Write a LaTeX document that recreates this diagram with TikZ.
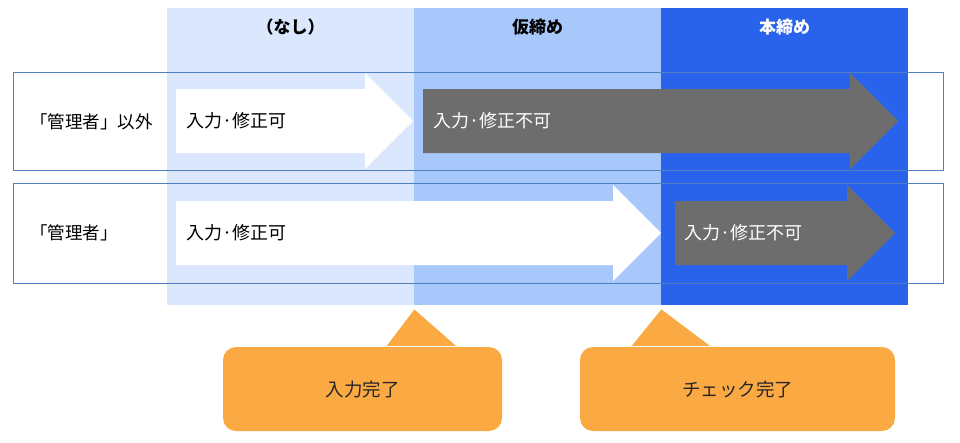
\documentclass[tikz,border=0pt]{standalone}
\usepackage{fontspec}
\setmainfont{Noto Sans CJK JP}
\usepackage{xcolor}
\usetikzlibrary{positioning}

\definecolor{colnone}{HTML}{DAE7FC}
\definecolor{coltemp}{HTML}{A8C7FA}
\definecolor{colfinal}{HTML}{2A63EB}
\definecolor{arrowgray}{HTML}{6D6D6D}
\definecolor{rowline}{HTML}{5080C2}
\definecolor{calloutorange}{HTML}{FBA942}

% block arrow: fill, start x, tip x, centre y
\newcommand{\blockarrow}[4]{%
  \fill[#1] (#2,#4-32) -- (#3-48,#4-32) -- (#3-48,#4-48) -- (#3,#4)
    -- (#3-48,#4+48) -- (#3-48,#4+32) -- (#2,#4+32) -- cycle;}

\begin{document}
\begin{tikzpicture}[
  x=1pt, y=-1pt,
  colbox/.style={anchor=north west, minimum width=247pt, minimum height=297pt, inner sep=0pt},
  header/.style={font=\fontsize{17}{17}\selectfont\bfseries},
  rowbox/.style={anchor=north west, draw=rowline, line width=0.8pt, minimum width=930pt, inner sep=0pt},
  rowlabel/.style={anchor=west, inner sep=0pt, font=\fontsize{17.5}{17.5}\selectfont},
  armtext/.style={anchor=west, inner sep=0pt, font=\fontsize{18}{18}\selectfont},
  callout/.style={fill=calloutorange, rounded corners=13pt, minimum height=84pt, inner sep=0pt,
    font=\fontsize{18.5}{18.5}\selectfont, text=black!85}
]
\useasboundingbox (0,0) rectangle (960,442);

% columns
\node[colbox, fill=colnone] (none) at (167,8) {};
\node[colbox, fill=coltemp] (temp) at (414,8) {};
\node[colbox, fill=colfinal] (final) at (661,8) {};
\node[header] (nonehead) at ([yshift=-19pt]none.north) {（なし）};
\node[header] (temphead) at ([yshift=-19pt]temp.north) {仮締め};
\node[header, text=white] (finalhead) at ([yshift=-19pt]final.north) {本締め};

% rows
\node[rowbox, minimum height=98pt] (rowother) at (13,72) {};
\node[rowbox, minimum height=100pt] (rowadmin) at (13,183) {};
\node[rowlabel] (otherlabel) at (30,122) {「管理者」以外};
\node[rowlabel] (adminlabel) at (30,233) {「管理者」};

% arrows
\blockarrow{white}{176}{413}{121}
\blockarrow{arrowgray}{423}{898}{121}
\blockarrow{white}{176}{661}{233}
\blockarrow{arrowgray}{675}{895}{233}
\node[armtext] (otheredit) at (186,121) {入力·修正可};
\node[armtext, text=white] (otherlock) at (433,121) {入力·修正不可};
\node[armtext] (adminedit) at (186,233) {入力·修正可};
\node[armtext, text=white] (adminlock) at (684,233) {入力·修正不可};

% callouts
\node[callout, minimum width=279pt] (donein) at (362.5,389) {入力完了};
\node[callout, minimum width=315pt] (donecheck) at (737.5,389) {チェック完了};
\fill[calloutorange] ([xshift=164pt, yshift=1pt]donein.north west) -- ([yshift=-4pt]none.south east)
  -- ([xshift=233pt, yshift=1pt]donein.north west) -- cycle;
\fill[calloutorange] ([xshift=52pt, yshift=1pt]donecheck.north west) -- ([yshift=-4pt]temp.south east)
  -- ([xshift=130pt, yshift=1pt]donecheck.north west) -- cycle;
\end{tikzpicture}
\end{document}
